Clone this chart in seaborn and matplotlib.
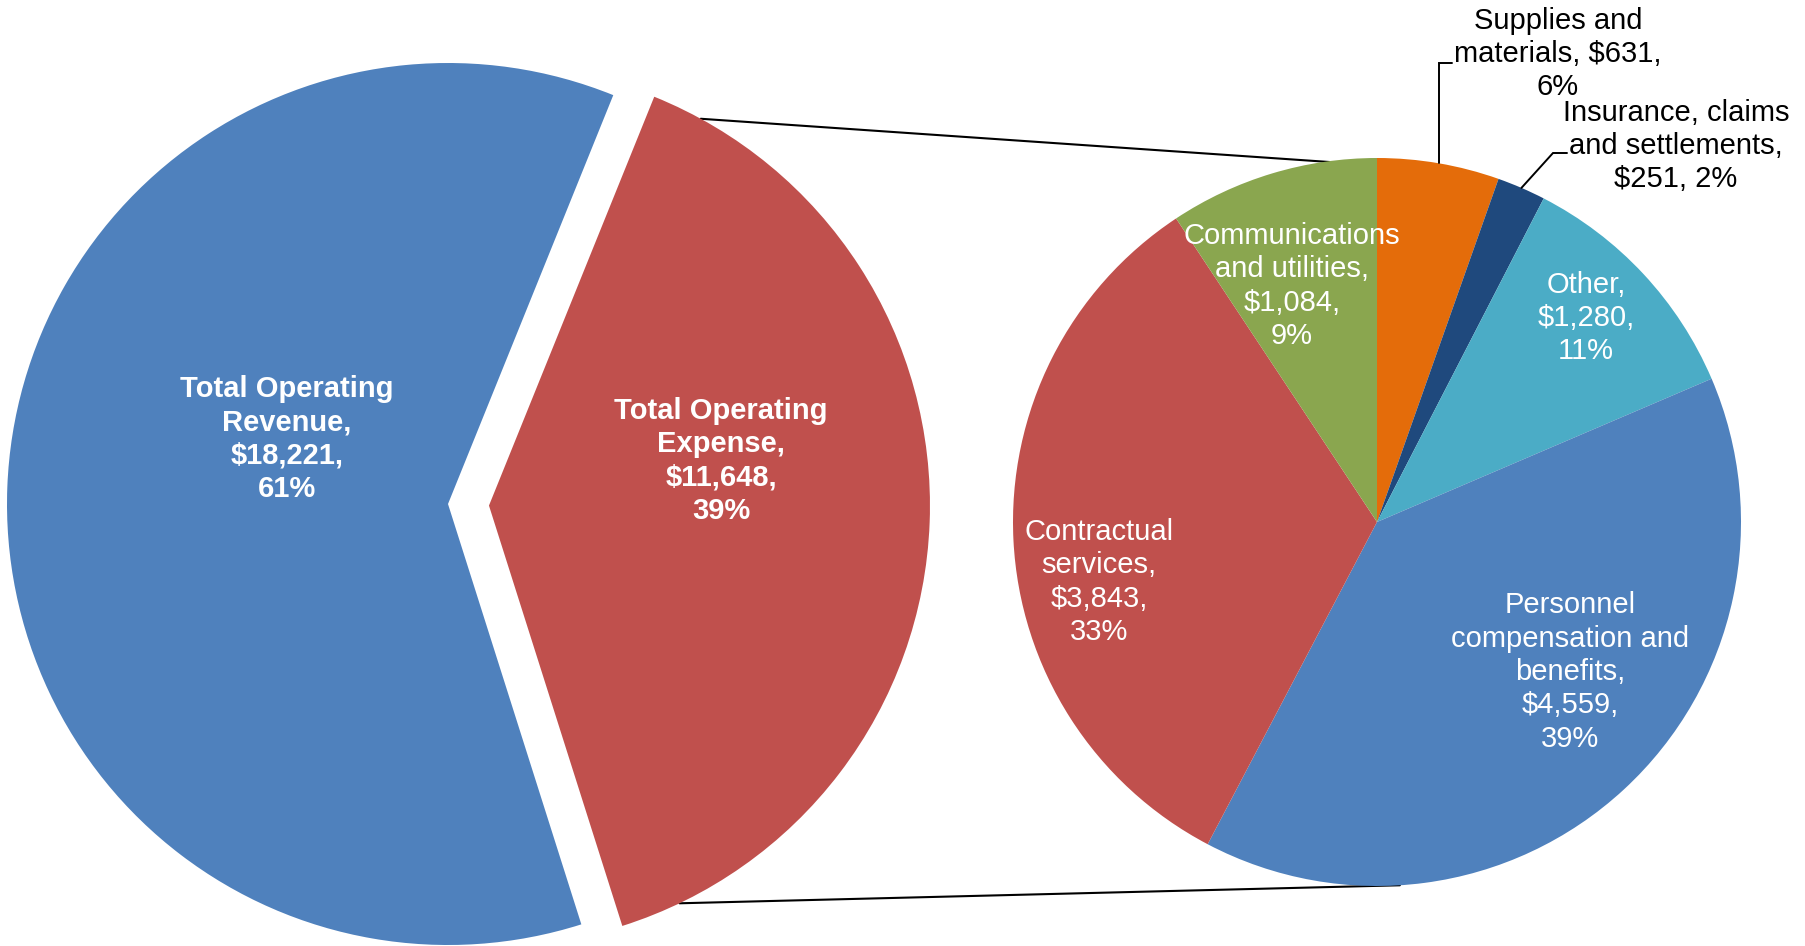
import numpy as np
import matplotlib
matplotlib.use("Agg")
import matplotlib.pyplot as plt
import seaborn as sns

# Main pie: total operating expense vs. total operating revenue
main_names = ["Total Operating\nExpense", "Total Operating\nRevenue"]
main_values = [11648, 18221]
main_pcts = [39, 61]

# Expense breakdown, clockwise from 12 o'clock
exp_names = ["Supplies and\nmaterials", "Insurance, claims\nand settlements", "Other",
             "Personnel\ncompensation and\nbenefits", "Contractual\nservices",
             "Communications\nand utilities"]
exp_values = [631, 251, 1280, 4559, 3843, 1084]
exp_pcts = [6, 2, 11, 39, 33, 9]

# How the value and percent are broken across lines in each label
main_fmt = ["{n},\n${v:,},\n{p}%", "{n},\n${v:,},\n{p}%"]
exp_fmt = ["{n}, ${v:,},\n{p}%", "{n},\n${v:,}, {p}%", "{n},\n${v:,},\n{p}%",
           "{n},\n${v:,},\n{p}%", "{n},\n${v:,},\n{p}%", "{n},\n${v:,},\n{p}%"]

sns.set_theme(style="white")
plt.rcParams["font.family"] = ["Liberation Sans", "DejaVu Sans"]

main_colors = sns.color_palette(["#C0504D", "#4F81BD"])
exp_colors = sns.color_palette(["#E46C0A", "#1F497D", "#4BACC6", "#4F81BD", "#C0504D", "#8AA64F"])
exp_text_colors = ["black", "black", "white", "white", "white", "white"]

W, H = 1806, 946
fig = plt.figure(figsize=(W / 100, H / 100), dpi=100)
ax = fig.add_axes([0, 0, 1, 1])


def px(x, y):
    """Pixel position measured from the top-left corner -> axis units."""
    return x, H - y


def polar(c, r, deg):
    t = np.deg2rad(deg)
    return c[0] + r * np.cos(t), c[1] + r * np.sin(t)


LINESPACING = 1.24

# ---- main pie -------------------------------------------------------------
main_center = px(448, 504)
main_r = 441
gap = 41
main_start = -72.4
ax.pie(main_values, colors=main_colors, startangle=main_start, counterclock=True,
       radius=main_r, center=main_center, explode=[gap, 0],
       wedgeprops=dict(linewidth=0, zorder=3))

main_frac = np.array(main_values) / sum(main_values)
exp_mid = main_start + 360 * main_frac[0] / 2
red_center = polar(main_center, gap, exp_mid)

main_label_pos = [px(721, 461), px(287, 439)]
for name, v, p, fmt, pos in zip(main_names, main_values, main_pcts, main_fmt, main_label_pos):
    ax.text(*pos, fmt.format(n=name, v=v, p=p), ha="center", va="center",
            fontsize=21, fontweight="bold", color="white", linespacing=LINESPACING,
            zorder=5)

# ---- breakdown pie --------------------------------------------------------
exp_center = px(1377, 522)
exp_r = 364
ax.pie(exp_values, colors=exp_colors, startangle=90, counterclock=False,
       radius=exp_r, center=exp_center, wedgeprops=dict(linewidth=0, zorder=3))

frac = np.array(exp_values) / sum(exp_values)
before = np.concatenate([[0], np.cumsum(frac)[:-1]])
mids = 90 - 360 * (before + frac / 2)

exp_label_pos = [px(1558, 54), px(1676, 146), px(1586, 318),
                 px(1570, 672), px(1099, 582), px(1292, 286)]
for name, v, p, fmt, pos, tc in zip(exp_names, exp_values, exp_pcts, exp_fmt,
                                     exp_label_pos, exp_text_colors):
    ax.text(*pos, fmt.format(n=name, v=v, p=p), ha="center", va="center",
            fontsize=21, color=tc, linespacing=LINESPACING, zorder=5)

# leader lines for the two small slices
leader_elbow_y = [63, 153]
leader_elbow_x = [None, 1553]
leader_end_x = [1452, 1567]
for i in range(2):
    sx, sy = polar(exp_center, exp_r, mids[i])
    ex = sx if leader_elbow_x[i] is None else leader_elbow_x[i]
    _, ey = px(0, leader_elbow_y[i])
    ax.plot([sx, ex, leader_end_x[i]], [sy, ey, ey], color="black", lw=1.4,
            solid_joinstyle="miter", zorder=4)

# ---- connector lines between the pies -------------------------------------
top_start = polar(red_center, main_r, 61.3)
bot_start = polar(red_center, main_r, -64.4)
top_end = polar(exp_center, exp_r * 0.98, 90)
bot_end = polar(exp_center, exp_r, -86.4)
for a, b in [(top_start, top_end), (bot_start, bot_end)]:
    ax.plot([a[0], b[0]], [a[1], b[1]], color="black", lw=1.5, zorder=2)

ax.set_xlim(0, W)
ax.set_ylim(0, H)
ax.set_aspect("equal")
ax.axis("off")
fig.savefig("out.png", dpi=100, facecolor="white")
